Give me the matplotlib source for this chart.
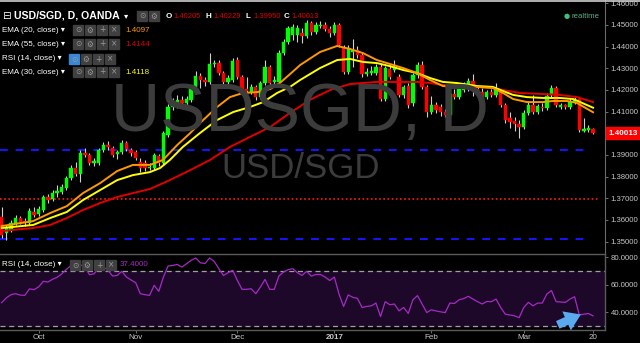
import matplotlib
matplotlib.use('Agg')  # headless
import matplotlib.pyplot as plt
import matplotlib.transforms as mtransforms
from matplotlib.patches import Rectangle
import numpy as np

W, H = 640, 343

# daily USD/SGD candles (OANDA)
opens = [
    1.3614, 1.3540, 1.3554, 1.3586, 1.3609, 1.3595, 1.3586, 1.3637, 1.3627, 1.3646,
    1.3706, 1.3697, 1.3724, 1.3729, 1.3747, 1.3794, 1.3840, 1.3812, 1.3909, 1.3900,
    1.3863, 1.3863, 1.3923, 1.3946, 1.3932, 1.3904, 1.3914, 1.3955, 1.3923, 1.3914,
    1.3867, 1.3863, 1.3840, 1.3840, 1.3895, 1.3863, 1.3992, 1.4121, 1.4140, 1.4154,
    1.4140, 1.4154, 1.4214, 1.4264, 1.4246, 1.4237, 1.4320, 1.4324, 1.4278, 1.4237,
    1.4246, 1.4338, 1.4260, 1.4204, 1.4190, 1.4214, 1.4167, 1.4232, 1.4306, 1.4237,
    1.4237, 1.4370, 1.4421, 1.4453, 1.4453, 1.4463, 1.4449, 1.4509, 1.4467, 1.4495,
    1.4500, 1.4481, 1.4463, 1.4500, 1.4393, 1.4283, 1.4375, 1.4384, 1.4361, 1.4273,
    1.4278, 1.4278, 1.4306, 1.4158, 1.4297, 1.4292, 1.4260, 1.4177, 1.4218, 1.4140,
    1.4269, 1.4315, 1.4214, 1.4098, 1.4130, 1.4121, 1.4098, 1.4084, 1.4181, 1.4167,
    1.4200, 1.4204, 1.4241, 1.4204, 1.4190, 1.4167, 1.4190, 1.4177, 1.4190, 1.4130,
    1.4070, 1.4057, 1.4043, 1.4029, 1.4094, 1.4130, 1.4098, 1.4121, 1.4117, 1.4177,
    1.4209, 1.4121, 1.4130, 1.4121, 1.4144, 1.4158, 1.4010, 1.4015, 1.40205,
]
highs = [
    1.3660, 1.3577, 1.3600, 1.3623, 1.3618, 1.3609, 1.3655, 1.3660, 1.3664, 1.3715,
    1.3720, 1.3738, 1.3761, 1.3766, 1.3803, 1.3854, 1.3867, 1.3923, 1.3932, 1.3909,
    1.3886, 1.3932, 1.3960, 1.3964, 1.3941, 1.3923, 1.3969, 1.3964, 1.3932, 1.3923,
    1.3886, 1.3877, 1.3863, 1.3909, 1.3904, 1.4010, 1.4135, 1.4163, 1.4177, 1.4172,
    1.4172, 1.4223, 1.4287, 1.4278, 1.4260, 1.4370, 1.4338, 1.4338, 1.4287, 1.4269,
    1.4347, 1.4352, 1.4269, 1.4260, 1.4227, 1.4223, 1.4241, 1.4338, 1.4315, 1.4264,
    1.4384, 1.4435, 1.4495, 1.4504, 1.4500, 1.4486, 1.4523, 1.4518, 1.4514, 1.4518,
    1.4514, 1.4495, 1.4514, 1.4509, 1.4407, 1.4407, 1.4435, 1.4403, 1.4375, 1.4301,
    1.4310, 1.4320, 1.4320, 1.4310, 1.4315, 1.4338, 1.4273, 1.4223, 1.4232, 1.4278,
    1.4329, 1.4333, 1.4223, 1.4172, 1.4144, 1.4135, 1.4112, 1.4195, 1.4204, 1.4223,
    1.4237, 1.4255, 1.4273, 1.4218, 1.4209, 1.4200, 1.4204, 1.4232, 1.4204, 1.4140,
    1.4098, 1.4075, 1.4061, 1.4107, 1.4144, 1.4177, 1.4135, 1.4140, 1.4186, 1.4223,
    1.4218, 1.4140, 1.4135, 1.4163, 1.4167, 1.4167, 1.4070, 1.4038, 1.40229,
]
lows = [
    1.3517, 1.3507, 1.3544, 1.3577, 1.3581, 1.3572, 1.3577, 1.3614, 1.3618, 1.3637,
    1.3678, 1.3687, 1.3706, 1.3720, 1.3738, 1.3784, 1.3803, 1.3776, 1.3890, 1.3854,
    1.3849, 1.3854, 1.3914, 1.3923, 1.3890, 1.3881, 1.3904, 1.3918, 1.3895, 1.3877,
    1.3821, 1.3826, 1.3830, 1.3830, 1.3849, 1.3854, 1.3983, 1.4107, 1.4117, 1.4126,
    1.4112, 1.4144, 1.4204, 1.4209, 1.4218, 1.4227, 1.4306, 1.4269, 1.4223, 1.4227,
    1.4237, 1.4250, 1.4190, 1.4167, 1.4181, 1.4154, 1.4158, 1.4223, 1.4223, 1.4227,
    1.4227, 1.4361, 1.4412, 1.4430, 1.4421, 1.4417, 1.4440, 1.4453, 1.4458, 1.4486,
    1.4472, 1.4444, 1.4453, 1.4398, 1.4273, 1.4273, 1.4306, 1.4347, 1.4260, 1.4264,
    1.4269, 1.4269, 1.4149, 1.4149, 1.4250, 1.4283, 1.4167, 1.4163, 1.4117, 1.4126,
    1.4255, 1.4204, 1.4075, 1.4089, 1.4094, 1.4080, 1.4075, 1.4075, 1.4158, 1.4158,
    1.4190, 1.4195, 1.4172, 1.4172, 1.4154, 1.4158, 1.4167, 1.4167, 1.4121, 1.4047,
    1.4024, 1.4010, 1.3978, 1.4020, 1.4084, 1.4089, 1.4089, 1.4103, 1.4107, 1.4163,
    1.4121, 1.4112, 1.4112, 1.4112, 1.4135, 1.4006, 1.4006, 1.4006, 1.39950,
]
closes = [
    1.3531, 1.3563, 1.3586, 1.3609, 1.3591, 1.3586, 1.3641, 1.3623, 1.3650, 1.3706,
    1.3692, 1.3724, 1.3734, 1.3752, 1.3794, 1.3840, 1.3812, 1.3909, 1.3900, 1.3863,
    1.3872, 1.3923, 1.3946, 1.3937, 1.3900, 1.3914, 1.3955, 1.3927, 1.3909, 1.3886,
    1.3840, 1.3840, 1.3844, 1.3900, 1.3863, 1.4001, 1.4121, 1.4130, 1.4154, 1.4140,
    1.4158, 1.4214, 1.4264, 1.4246, 1.4237, 1.4320, 1.4324, 1.4278, 1.4237, 1.4255,
    1.4333, 1.4260, 1.4200, 1.4195, 1.4214, 1.4167, 1.4232, 1.4306, 1.4232, 1.4246,
    1.4370, 1.4421, 1.4486, 1.4490, 1.4486, 1.4449, 1.4509, 1.4467, 1.4500, 1.4500,
    1.4481, 1.4463, 1.4500, 1.4407, 1.4283, 1.4393, 1.4384, 1.4361, 1.4273, 1.4283,
    1.4287, 1.4306, 1.4158, 1.4301, 1.4260, 1.4301, 1.4177, 1.4214, 1.4130, 1.4269,
    1.4315, 1.4214, 1.4098, 1.4130, 1.4107, 1.4098, 1.4084, 1.4181, 1.4167, 1.4204,
    1.4227, 1.4241, 1.4218, 1.4186, 1.4167, 1.4190, 1.4177, 1.4204, 1.4130, 1.4061,
    1.4052, 1.4043, 1.4029, 1.4094, 1.4130, 1.4098, 1.4126, 1.4117, 1.4172, 1.4209,
    1.4130, 1.4130, 1.4121, 1.4144, 1.4158, 1.4015, 1.4020, 1.4024, 1.40013,
]

# moving averages, read at points along each line (bar index, price)
ema20_bars = [0, 6.8, 10.5, 14.1, 17.6, 21.3, 25.0, 28.4, 32.1, 34.9, 38.0, 40.8, 43.6,
              46.6, 49.4, 52.2, 55.3, 58.1, 60.2, 62.4, 64.6, 68.9, 72.6, 75.4, 78.2,
              81.2, 84.0, 86.9, 89.9, 92.7, 95.5, 98.5, 102.9, 106.3, 108.5, 110.7,
              113.7, 117.2, 119.3, 122.4, 124.5, 128]
ema20 = [1.3572, 1.3595, 1.3632, 1.3664, 1.3724, 1.3770, 1.3826, 1.3854, 1.3854, 1.3877,
         1.3946, 1.4001, 1.4061, 1.4121, 1.4167, 1.4186, 1.4190, 1.4204, 1.4232, 1.4273,
         1.4315, 1.4375, 1.4403, 1.4389, 1.4370, 1.4338, 1.4320, 1.4301, 1.4278, 1.4246,
         1.4218, 1.4214, 1.4214, 1.4209, 1.4186, 1.4158, 1.4144, 1.4144, 1.4149, 1.4149,
         1.4140, 1.4097]
ema30_bars = [0, 6.8, 10.5, 14.1, 17.6, 21.3, 25.0, 28.4, 32.1, 34.3, 36.4, 39.2, 42.9,
              46.6, 50.1, 53.7, 56.6, 59.6, 62.4, 64.6, 68.9, 72.6, 75.4, 78.2, 81.2,
              84.0, 86.9, 89.9, 92.7, 95.5, 98.5, 102.9, 106.3, 108.5, 110.7, 113.7,
              117.2, 120.8, 123.7, 128]
ema30 = [1.3563, 1.3577, 1.3609, 1.3637, 1.3692, 1.3738, 1.3784, 1.3807, 1.3821, 1.3840,
         1.3877, 1.3937, 1.4001, 1.4061, 1.4098, 1.4121, 1.4144, 1.4186, 1.4214, 1.4246,
         1.4301, 1.4338, 1.4343, 1.4329, 1.4324, 1.4310, 1.4292, 1.4278, 1.4255, 1.4237,
         1.4232, 1.4218, 1.4214, 1.4195, 1.4177, 1.4167, 1.4163, 1.4163, 1.4158, 1.4118]
ema55_bars = [0, 6.8, 10.5, 14.1, 17.6, 21.3, 25.0, 28.4, 32.1, 36.4, 40.8, 45.1, 49.4,
              53.7, 58.1, 62.4, 66.7, 71.1, 75.4, 78.2, 81.2, 89.9, 92.7, 95.5, 98.5,
              102.9, 106.3, 108.5, 112.2, 117.2, 120.8, 124.5, 128]
ema55 = [1.3549, 1.3563, 1.3577, 1.3609, 1.3646, 1.3678, 1.3706, 1.3724, 1.3743, 1.3784,
         1.3830, 1.3877, 1.3937, 1.3983, 1.4029, 1.4094, 1.4154, 1.4200, 1.4227, 1.4232,
         1.4237, 1.4237, 1.4232, 1.4223, 1.4218, 1.4214, 1.4209, 1.4200, 1.4186, 1.4181,
         1.4177, 1.4167, 1.4144]

rsi = [
    47.0, 50.5, 52.8, 53.5, 52.5, 52.3, 57.0, 56.5, 58.5, 62.5,
    62.0, 64.0, 65.4, 68.0, 71.2, 74.1, 71.2, 74.6, 72.9, 67.3,
    68.0, 72.2, 73.0, 70.5, 66.4, 66.8, 69.8, 65.6, 63.5, 61.5,
    53.5, 52.8, 52.3, 59.6, 55.2, 65.6, 73.6, 74.1, 74.8, 72.9,
    75.3, 77.8, 79.5, 76.0, 75.5, 79.5, 77.0, 71.7, 66.8, 68.8,
    70.5, 63.2, 56.7, 56.7, 57.1, 53.5, 58.4, 63.9, 56.7, 56.7,
    66.4, 69.3, 71.0, 71.7, 68.8, 66.8, 69.8, 66.3, 67.5, 67.5,
    65.6, 63.1, 65.6, 53.3, 44.2, 52.6, 50.9, 50.1, 43.5, 44.2,
    44.7, 46.7, 36.9, 47.7, 45.5, 46.0, 41.0, 43.5, 39.1, 49.1,
    52.1, 46.0, 39.8, 41.8, 41.0, 40.3, 39.8, 46.7, 46.4, 49.1,
    50.0, 51.6, 49.6, 47.7, 46.0, 47.9, 47.7, 49.6, 43.5, 38.6,
    38.0, 37.4, 36.1, 43.5, 47.2, 44.7, 46.7, 46.7, 53.3, 55.8,
    47.7, 47.5, 47.2, 49.6, 51.3, 38.1, 38.6, 39.1, 37.4,
]

tick_bars = [8, 29, 51, 72, 93, 113, 128]
tick_labels = ['Oct', 'Nov', 'Dec', '2017', 'Feb', 'Mar', '20']
price_ticks = [1.35, 1.36, 1.37, 1.38, 1.39, 1.41, 1.42, 1.43, 1.44, 1.45, 1.46]
rsi_ticks = [40, 60, 80]
blue_levels = [1.3925, 1.3512]
red_level = 1.3699
last_price = 1.40013

BG = '#000000'
TXT = '#c8c8c8'
UP, DOWN = '#00ff00', '#ff0000'
UI = ['Liberation Sans', 'DejaVu Sans']


def P(x, y):
    # pixel position -> figure fraction
    return x / W, 1 - y / H


fig = plt.figure(figsize=(W / 100, H / 100), dpi=100, facecolor=BG)
ax = fig.add_axes([0, 1 - 254 / H, 605 / W, 254 / H], facecolor=BG)
ax2 = fig.add_axes([0, 1 - 330 / H, 605 / W, 76 / H], facecolor=BG)

xlim = (-0.37, 130.58)

# watermark
fig.text(*P(300, 131), 'USDSGD, D', fontsize=49, color='#3c3c3c', family=UI,
         ha='center', va='baseline', zorder=0)
fig.text(*P(301, 178), 'USD/SGD', fontsize=25, color='#3c3c3c', family=UI,
         ha='center', va='baseline', zorder=0)

o = np.array(opens)
c = np.array(closes)
x = np.arange(len(o))
col = np.where(c >= o, UP, DOWN)
ax.vlines(x, lows, highs, color='#d0d0d0', lw=0.8, zorder=3)
ax.bar(x, np.maximum(np.abs(c - o), 0.00012), bottom=np.minimum(o, c), width=0.72,
       color=col, edgecolor=col, lw=0.3, zorder=4)

ax.plot(ema55_bars, ema55, color='#e00000', lw=1.4, zorder=5)
ax.plot(ema30_bars, ema30, color='#ffff00', lw=1.4, zorder=5)
ax.plot(ema20_bars, ema20, color='#ff9900', lw=1.4, zorder=5)

for lv in blue_levels:
    ax.hlines(lv, xlim[0], 127.5, color='#1515ff', lw=1.4, linestyles=(0, (4, 4)), zorder=2)
ax.hlines(red_level, xlim[0], 129, color='#ff1a1a', lw=1.2, linestyles=(0, (1, 1.5)), zorder=2)

ax.set_xlim(*xlim)
ax.set_ylim(1.3443, 1.4615)
ax.yaxis.tick_right()
ax.set_yticks(price_ticks)
ax.set_yticklabels([f'{v:.5f}' for v in price_ticks], family=UI)
ax.tick_params(axis='y', colors='#808080', labelcolor=TXT, labelsize=5.6, length=2.5,
               width=0.6, pad=1.5)
ax.set_xticks([])
for s in ['top', 'left', 'bottom']:
    ax.spines[s].set_visible(False)
ax.spines['right'].set_color('#6a6a6a')

# last price box
tr = mtransforms.blended_transform_factory(ax.transAxes, ax.transData)
ax.add_patch(Rectangle((1.002, last_price - 0.00255), 0.057, 0.0051, transform=tr,
                       color='#ff0000', clip_on=False, zorder=6))
ax.text(1.0305, last_price, f'{last_price:.5f}', transform=tr, ha='center', va='center',
        fontsize=5.8, color='white', weight='bold', family=UI, clip_on=False, zorder=7)

# RSI panel
ax2.axhspan(30, 70, color='#1d0829', zorder=0)
ax2.axhline(70, color='#a0a0a0', lw=0.9, ls=(0, (4, 3)), zorder=1)
ax2.axhline(30, color='#a0a0a0', lw=0.9, ls=(0, (4, 3)), zorder=1)
ax2.plot(x, rsi, color='#a52ac4', lw=0.9, zorder=3)
ax2.annotate('', xy=(125.9, 39.2), xytext=(119.8, 30.0),
             arrowprops=dict(arrowstyle='simple,head_length=0.75,head_width=1.0,tail_width=0.4',
                             color='#5aaaf0', lw=0, mutation_scale=15), zorder=4)
ax2.set_xlim(*xlim)
ax2.set_ylim(27.1, 82.4)
ax2.yaxis.tick_right()
ax2.set_yticks(rsi_ticks)
ax2.set_yticklabels([f'{v:.4f}' for v in rsi_ticks], family=UI)
ax2.tick_params(axis='y', colors='#808080', labelcolor=TXT, labelsize=5.6, length=2.5,
                width=0.6, pad=1.5)
ax2.set_xticks(tick_bars)
ax2.set_xticklabels(tick_labels, family=UI)
ax2.tick_params(axis='x', colors='#808080', labelcolor=TXT, labelsize=5.8, length=2,
                width=0.6, pad=1)
ax2.get_xticklabels()[3].set_weight('bold')
ax2.spines['left'].set_visible(False)
for s in ['top', 'right', 'bottom']:
    ax2.spines[s].set_color('#5a5a5a')
    ax2.spines[s].set_linewidth(1.0)

# top border
fig.add_artist(plt.Line2D([0, 1], [1 - 0.8 / H, 1 - 0.8 / H], color='#cfcfcf', lw=1.2,
                          transform=fig.transFigure))


def icons(x0, yc, n, first='#404040'):
    glyphs = ['\u2299', '\u2699', '+', '\u00d7']
    for k in range(n):
        xl = x0 + k * 12
        fc = first if k == 0 else '#404040'
        fig.add_artist(Rectangle(P(xl, yc + 5), 10 / W, 10 / H, transform=fig.transFigure,
                                 color=fc, zorder=8))
        fig.text(*P(xl + 5, yc), glyphs[k], fontsize=5.5, color='#9a9a9a', ha='center',
                 va='center', family=['DejaVu Sans'], zorder=9)


# header
fig.text(*P(2, 16), '\u229f', fontsize=7.5, color='white', va='center', family=['DejaVu Sans'])
fig.text(*P(14, 16), 'USD/SGD, D, OANDA', fontsize=7.6, color='white', weight='bold',
         va='center', family=UI)
fig.text(*P(124, 16), '\u25be', fontsize=6, color='white', va='center', family=['DejaVu Sans'])
icons(137, 16, 2)
ohlc = [('O', opens[-1]), ('H', highs[-1]), ('L', lows[-1]), ('C', closes[-1])]
lab_x = [166, 206, 246, 284]
for (lab, val), xx in zip(ohlc, lab_x):
    fig.text(*P(xx, 16), lab, fontsize=5.8, color='white', weight='bold', va='center', family=UI)
    fig.text(*P(xx + 7.5, 16), f'{val:.5f}', fontsize=5.5, color='#e00000', va='center',
             family=UI)

fig.text(*P(570, 16), '\u25cf', fontsize=5, color='#3fbf80', ha='right', va='center',
         family=['DejaVu Sans'])
fig.text(*P(572, 16), 'realtime', fontsize=5.6, color='#5fae88', ha='left', va='center',
         family=UI)

rows = [
    (30, 'EMA (20, close)', f'{ema20[-1]:.4f}', '#ff9900', '#404040'),
    (44, 'EMA (55, close)', f'{ema55[-1]:.4f}', '#e00000', '#404040'),
    (59, 'RSI (14, close)', '', '', '#3b86d6'),
    (72, 'EMA (30, close)', f'{ema30[-1]:.4f}', '#ffff00', '#404040'),
]
for yc, name, val, vc, first in rows:
    fig.text(*P(2, yc), name + ' \u25be', fontsize=5.8, color='white', va='center', family=UI)
    icons(73 if name.startswith('EMA') else 69, yc, 4, first)
    if val:
        fig.text(*P(125, yc), val, fontsize=5.8, color=vc, va='center', family=UI)

fig.text(*P(2, 265), 'RSI (14, close) \u25be', fontsize=5.8, color='white', va='center',
         family=UI)
icons(70, 265, 4)
fig.text(*P(120, 265), f'{rsi[-1]:.4f}', fontsize=5.8, color='#a52ac4', va='center', family=UI)

fig.savefig('out.png', dpi=100, facecolor=BG)
